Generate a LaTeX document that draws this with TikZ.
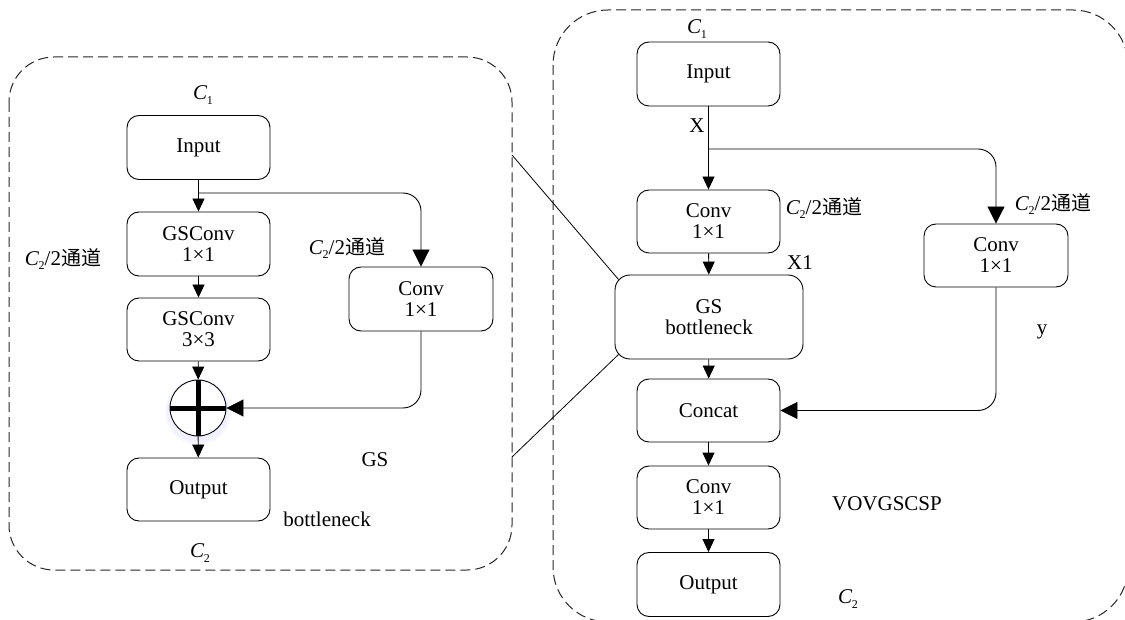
\documentclass[tikz,border=0pt]{standalone}
\usepackage{fontspec}
\setmainfont{Liberation Serif}
\newfontfamily\cjk{Noto Sans CJK SC}
\usetikzlibrary{arrows.meta,calc}
\newcommand\Cn[1]{\textit{C}\kern-0.5pt\raisebox{-0.45ex}{\fontsize{12}{12}\selectfont #1}}
\newcommand\chan{\Cn{2}/2{\cjk\fontsize{20}{20}\selectfont 通道}}
\begin{document}
\begin{tikzpicture}[x=1pt,y=-1pt, font=\fontsize{21}{21}\selectfont,
  box/.style={draw, line width=0.9pt, rounded corners=12pt, minimum width=143pt, minimum height=63pt, align=center, inner sep=0pt},
  frame/.style={draw, line width=1pt, dash pattern=on 10pt off 5pt, black!85},
  arr/.style={line width=0.9pt, -{Triangle[length=13pt,width=12pt]}},
  bigarr/.style={line width=0.9pt, rounded corners=18pt, -{Triangle[length=17pt,width=17pt]}},
  lbl/.style={inner sep=0pt, anchor=center}]
\useasboundingbox (0,0) rectangle (1125,620);
\clip (0,0) rectangle (1125,620);
% frames
\draw[frame, rounded corners=45pt] (9,57) rectangle (512,570);
\draw[frame, rounded corners=55pt] (553,10) rectangle (1128,622);
% left: GS bottleneck
\node[box, minimum height=64pt] (inL) at (198.5,147.5) {Input};
\node[box, minimum height=64pt] (gs1) at (198.5,244) {GSConv\\1×1};
\node[box] (gs3) at (198.5,329.5) {GSConv\\3×3};
\fill[blue!3] (198,412) circle[radius=33pt];
\fill[blue!6] (198,411) circle[radius=31pt];
\node[circle, draw, fill=white, line width=0.9pt, minimum size=56pt, inner sep=0pt] (plus) at (198,408) {};
\draw[line width=5pt] (plus.north) -- (plus.south) (plus.west) -- (plus.east);
\node[box] (outL) at (198.5,489.5) {Output};
\node[box, minimum width=144pt, minimum height=64pt] (convL) at (421,299) {Conv\\1×1};
\coordinate (brL) at (198.5,193);
\draw[arr] (inL) -- (gs1);
\draw[arr] (gs1) -- (gs3);
\draw[arr] (gs3) -- (plus);
\draw[arr] (plus) -- (outL);
\draw[bigarr] (brL) -| (convL.north);
\draw[bigarr] (convL.south) |- (plus.east);
\node[lbl] (c1L) at (203,95) {\Cn{1}};
\node[lbl] (chL1) at (63,259) {\chan};
\node[lbl] (chL2) at (347,248) {\chan};
\node[lbl] (gsLbl) at (375,460) {GS};
\node[lbl] (bnLbl) at (327,519) {bottleneck};
\node[lbl] (c2L) at (200,553) {\Cn{2}};
% right: VOVGSCSP
\node[box, minimum height=64pt] (inR) at (708.5,74) {Input};
\node[box] (c1R) at (708.5,221.5) {Conv\\1×1};
\node[box, minimum width=188pt, minimum height=84pt, rounded corners=15pt] (gsb) at (709,317) {GS\\bottleneck};
\node[box] (cat) at (708.5,410.5) {Concat};
\node[box] (c2R) at (708.5,497.5) {Conv\\1×1};
\node[box, minimum height=64pt] (outR) at (708.5,584.5) {Output};
\node[box, minimum width=144pt] (convR) at (996,255.5) {Conv\\1×1};
\coordinate (brR) at (708.5,149);
\draw[arr] (inR) -- (c1R);
\draw[arr] (c1R) -- (gsb);
\draw[arr] (gsb) -- (cat);
\draw[arr] (cat) -- (c2R);
\draw[arr] (c2R) -- (outR);
\draw[bigarr] (brR) -| (convR.north);
\draw[bigarr] (convR.south) |- (cat.east);
\node[lbl] (c1R lbl) at (697,29) {\Cn{1}};
\node[lbl] (xLbl) at (697,126) {X};
\node[lbl] (chR1) at (824,208) {\chan};
\node[lbl] (x1Lbl) at (800,263) {X1};
\node[lbl] (chR2) at (1053,204) {\chan};
\node[lbl] (yLbl) at (1042,332) {y};
\node[lbl] (vLbl) at (887,504) {VOVGSCSP};
\node[lbl] (c2R lbl) at (848,599) {\Cn{2}};
% zoom lines
\coordinate (pU) at (512,155);
\coordinate (pD) at (512,457);
\coordinate (gsbU) at (618.5,279.5);
\coordinate (gsbD) at (618.5,354.5);
\draw[line width=0.8pt] (pU) -- (gsbU);
\draw[line width=0.8pt] (pD) -- (gsbD);
\end{tikzpicture}
\end{document}
